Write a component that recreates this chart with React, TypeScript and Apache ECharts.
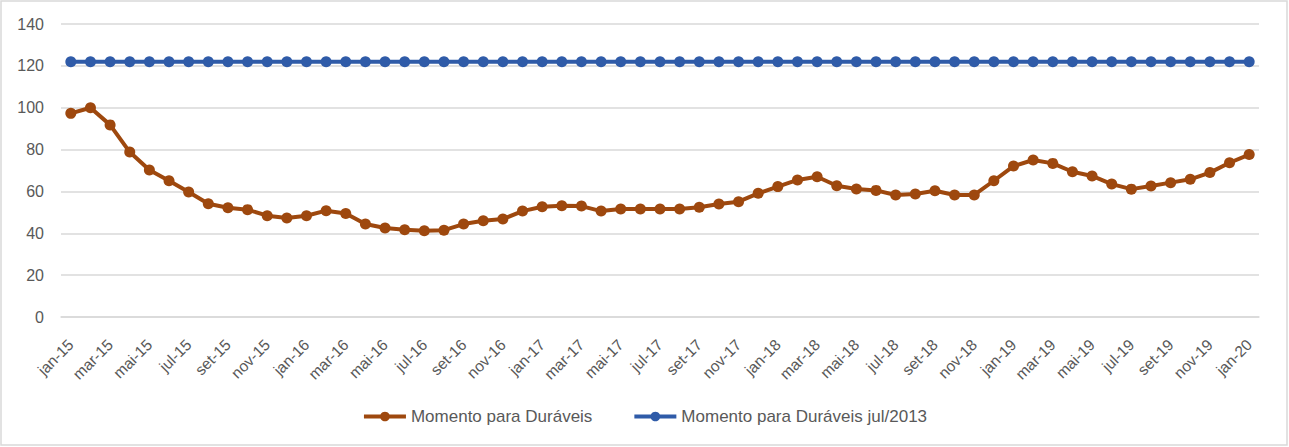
import React, { useEffect, useRef } from "react";
import * as echarts from "echarts";

const months = ["jan", "fev", "mar", "abr", "mai", "jun", "jul", "ago", "set", "out", "nov", "dez"];
const years = ["15", "16", "17", "18", "19"];
const categories: string[] = [];
for (const y of years) for (const m of months) categories.push(`${m}-${y}`);
categories.push("jan-20");

const duraveis = [
  97.3, 100, 91.8, 78.8, 70.2, 65.1, 59.7, 54.1, 52.2, 51.3, 48.4, 47.3,
  48.4, 50.8, 49.5, 44.4, 42.5, 41.7, 41.2, 41.5, 44.4, 46, 46.8, 50.6,
  52.7, 53.2, 53, 50.6, 51.6, 51.6, 51.6, 51.6, 52.4, 54, 55.1, 59.1,
  62.3, 65.5, 67, 62.7, 61.2, 60.5, 58.3, 58.8, 60.3, 58.3, 58.3, 65.1,
  72.1, 75, 73.4, 69.4, 67.4, 63.5, 61.1, 62.6, 64.2, 65.8, 69, 73.7,
  77.6,
];
const referencia = categories.map(() => 122);

const seriesNames = ["Momento para Duráveis", "Momento para Duráveis jul/2013"];
const FONT = "Liberation Sans";

export default function App() {
  const ref = useRef<HTMLDivElement>(null);
  useEffect(() => {
    document.body.style.margin = "0";
    const chart = echarts.init(ref.current!, null, { renderer: "svg" });
    chart.setOption({
      animation: false,
      backgroundColor: "#ffffff",
      graphic: [
        {
          type: "rect",
          shape: { x: 1, y: 1, width: 1286, height: 444 },
          style: { fill: "none", stroke: "#d9d9d9", lineWidth: 1.5 },
        },
      ],
      grid: { left: 61, right: 30, top: 24, bottom: 130 },
      xAxis: {
        type: "category",
        data: categories,
        boundaryGap: true,
        axisLine: { show: true, lineStyle: { color: "#d9d9d9", width: 1.5 } },
        axisTick: { show: false },
        axisLabel: {
          interval: 1,
          rotate: 45,
          color: "#595959",
          fontFamily: FONT,
          fontSize: 15.5,
          margin: 25,
        },
      },
      yAxis: {
        type: "value",
        min: 0,
        max: 140,
        interval: 20,
        axisLine: { show: false },
        axisTick: { show: false },
        splitLine: { lineStyle: { color: "#d9d9d9", width: 1.5 } },
        axisLabel: { color: "#595959", fontFamily: FONT, fontSize: 16, margin: 17 },
      },
      legend: {
        bottom: 17,
        left: "center",
        itemWidth: 42,
        itemHeight: 12,
        itemGap: 40,
        lineStyle: { width: 4 },
        textStyle: { color: "#595959", fontFamily: FONT, fontSize: 17 },
        data: seriesNames,
      },
      series: [
        {
          name: seriesNames[0],
          type: "line",
          data: duraveis,
          color: "#9E480E",
          lineStyle: { width: 4, color: "#9E480E" },
          itemStyle: { color: "#9E480E" },
          symbol: "circle",
          symbolSize: 11,
        },
        {
          name: seriesNames[1],
          type: "line",
          data: referencia,
          color: "#2F5BA8",
          lineStyle: { width: 4, color: "#2F5BA8" },
          itemStyle: { color: "#2F5BA8" },
          symbol: "circle",
          symbolSize: 11,
        },
      ],
    });
    return () => chart.dispose();
  }, []);
  return <div ref={ref} style={{ width: 1289, height: 447 }} />;
}
